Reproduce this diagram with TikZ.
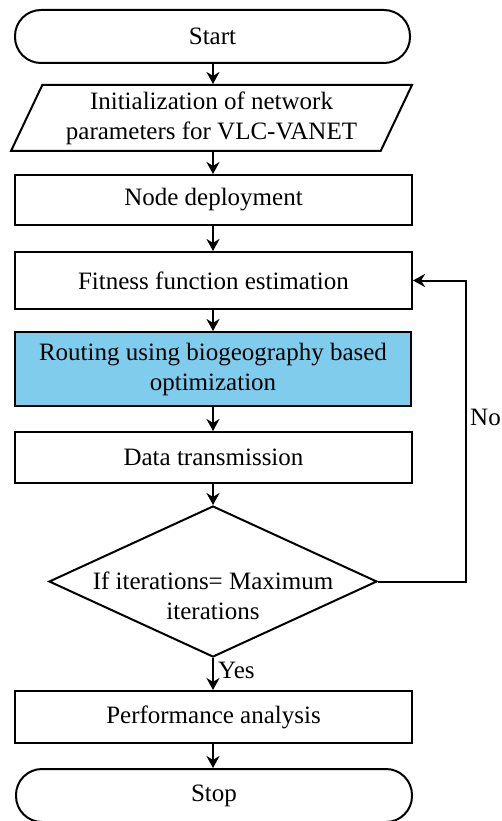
\documentclass[tikz,border=0pt]{standalone}
\usepackage{fontspec}
\setmainfont{Liberation Serif}
\usetikzlibrary{shapes.geometric,arrows.meta}
\definecolor{routeblue}{RGB}{128,204,236}
\tikzset{
  base/.style={draw=black, line width=2pt, inner sep=0pt, align=center,
    font=\fontsize{25}{30}\selectfont},
  terminal/.style={base, rectangle, rounded corners=26pt},
  procbox/.style={base, rectangle},
  iobox/.style={base, trapezium, trapezium left angle=63, trapezium right angle=117,
    trapezium stretches=true},
  decbox/.style={draw=black, line width=2pt, diamond, inner sep=0pt},
  lbl/.style={font=\fontsize{25}{30}\selectfont, inner sep=0pt},
  flow/.style={line width=2pt, -{Stealth[length=12pt,width=13pt]}}
}
\begin{document}
\begin{tikzpicture}[x=1pt,y=1pt]
\useasboundingbox (0,0) rectangle (502,-821);
\node[terminal, minimum width=395pt, minimum height=53pt] (start) at (212.5,-36.5) {Start};
\node[iobox, minimum width=403pt, minimum height=66pt] (init) at (211.5,-118) {Initialization of network\\parameters for VLC-VANET};
\node[procbox, minimum width=397pt, minimum height=50pt] (deploy) at (213.5,-200) {Node deployment};
\node[procbox, minimum width=397pt, minimum height=57pt] (fit) at (213.5,-280.5) {Fitness function estimation};
\node[procbox, fill=routeblue, minimum width=396pt, minimum height=74pt] (route) at (213,-369) {Routing using biogeography based\\optimization};
\node[procbox, minimum width=397pt, minimum height=51pt] (data) at (213.5,-457.5) {Data transmission};
\node[decbox, minimum width=328pt, minimum height=151pt] (dec) at (213,-581.5) {};
\node[lbl, align=center] (dectext) at (213,-596) {If iterations= Maximum\\iterations};
\node[procbox, minimum width=397pt, minimum height=52pt] (perf) at (213.5,-717) {Performance analysis};
\node[terminal, minimum width=396pt, minimum height=53pt] (stop) at (214,-795.5) {Stop};
\coordinate (corner) at (466,-581.5);
\draw[flow] (start.south -| 213,0) -- (init.north -| 213,0);
\draw[flow] (init.south -| 213,0) -- (deploy.north -| 213,0);
\draw[flow] (deploy.south -| 213,0) -- (fit.north -| 213,0);
\draw[flow] (fit.south -| 213,0) -- (route.north -| 213,0);
\draw[flow] (route.south -| 213,0) -- (data.north -| 213,0);
\draw[flow] (data.south -| 213,0) -- (dec.north);
\draw[flow] (dec.south) -- (perf.north -| 213,0);
\draw[flow] (perf.south -| 213,0) -- (stop.north -| 213,0);
\draw[flow] (dec.east) -- (corner) |- (fit.east);
\node[lbl, anchor=west] (no) at (470,-417) {No};
\node[lbl, anchor=west] (yes) at (218,-670) {Yes};
\end{tikzpicture}
\end{document}
